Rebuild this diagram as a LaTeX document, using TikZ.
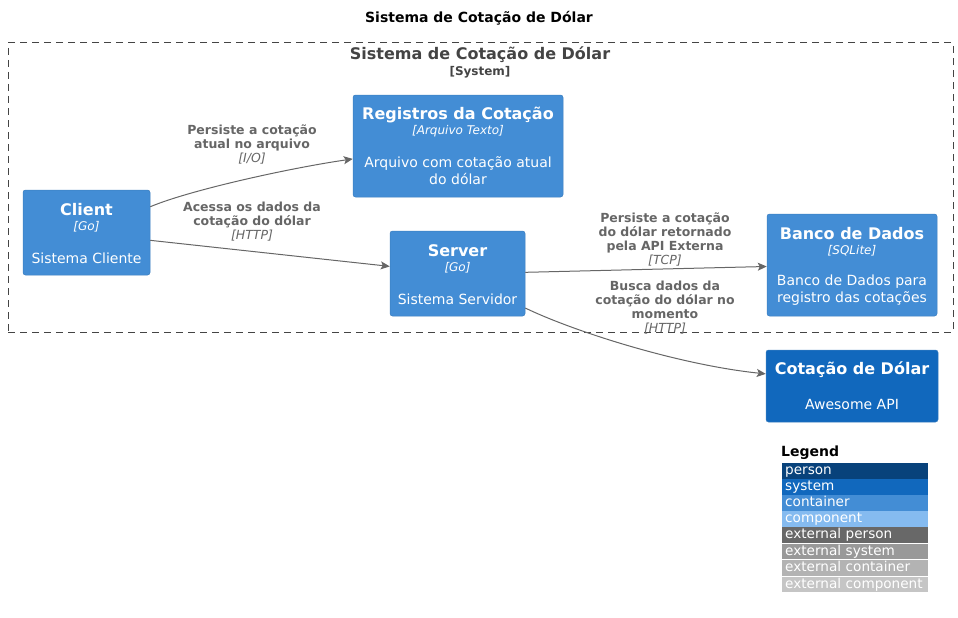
\documentclass[tikz,border=0pt]{standalone}
\usepackage{fontspec}
\setmainfont{DejaVu Sans}
\usepackage{tikz}
\usetikzlibrary{arrows.meta,shapes,positioning}
\usepackage{xcolor}
\definecolor{c4person}{RGB}{8,66,123}
\definecolor{c4system}{RGB}{17,104,189}
\definecolor{c4container}{RGB}{67,141,213}
\definecolor{c4component}{RGB}{133,187,240}
\definecolor{c4extperson}{RGB}{104,104,104}
\definecolor{c4extsystem}{RGB}{153,153,153}
\definecolor{c4extcontainer}{RGB}{179,179,179}
\definecolor{c4extcomponent}{RGB}{197,197,197}
\definecolor{c4border}{RGB}{60,127,192}
\definecolor{c4line}{RGB}{102,102,102}
\definecolor{c4boundary}{RGB}{68,68,68}
\tikzstyle{arrow} = [line width=1pt,-{Stealth[length=9pt,width=8pt,inset=2pt]},color=c4line]
\tikzstyle{container} = [rectangle, rounded corners=2.5pt, draw=c4border, fill=c4container, line width=0.5pt, inner sep=0pt]
\tikzstyle{extsystem} = [rectangle, rounded corners=2.5pt, draw=c4border, fill=c4system, line width=0.5pt, inner sep=0pt]
\tikzstyle{boundary} = [rectangle, draw=c4boundary, line width=1pt, dash pattern=on 7pt off 5pt, inner sep=0pt]
\tikzstyle{ctitle} = [text=white, inner sep=0pt, font=\bfseries\fontsize{16}{19}\selectfont]
\tikzstyle{ctech} = [text=white, inner sep=0pt, font=\itshape\fontsize{12}{14}\selectfont]
\tikzstyle{cdesc} = [text=white, inner sep=0pt, align=center, font=\fontsize{14}{16.5}\selectfont]
\tikzstyle{rellabel} = [text=c4line, inner sep=0pt, align=center, font=\bfseries\fontsize{12.5}{14}\selectfont]
\tikzstyle{legendrow} = [rectangle, anchor=north west, inner xsep=3pt, inner ysep=0pt, text width=140pt, minimum height=15.5pt, text height=10.5pt, text depth=3pt, align=left, text=white, font=\fontsize{13.6}{16}\selectfont]
\newcommand{\reltech}[1]{{\mdseries\itshape #1}}

\begin{document}
\begin{tikzpicture}[x=1pt,y=-1pt]
\useasboundingbox (0,0) rectangle (958,618);

\node[font=\bfseries\fontsize{14}{17}\selectfont] (title) at (479,18) {Sistema de Cotação de Dólar};

% system boundary
\node[boundary, minimum width=945, minimum height=289] (sysbound) at (480.5,187.5) {};
\node[text=c4boundary, font=\bfseries\fontsize{16}{19}\selectfont] (sysname) at (480,55) {Sistema de Cotação de Dólar};
\node[text=c4boundary, font=\bfseries\fontsize{12}{14}\selectfont] (systype) at (480,72) {[System]};

% containers
\node[container, minimum width=127, minimum height=85] (client) at (86.5,232.5) {};
\node[ctitle] (clientname) at (86.5,210) {Client};
\node[ctech] (clienttech) at (86.5,227) {[Go]};
\node[cdesc] (clientdesc) at (86.5,258) {Sistema Cliente};

\node[container, minimum width=210, minimum height=102] (registros) at (458,146) {};
\node[ctitle] (registrosname) at (458,115) {Registros da Cotação};
\node[ctech] (registrostech) at (458,131) {[Arquivo Texto]};
\node[cdesc] (registrosdesc) at (458,170.5) {Arquivo com cotação atual\\do dólar};

\node[container, minimum width=135, minimum height=85] (server) at (457.5,273.5) {};
\node[ctitle] (servername) at (457.5,251) {Server};
\node[ctech] (servertech) at (457.5,268) {[Go]};
\node[cdesc] (serverdesc) at (457.5,299) {Sistema Servidor};

\node[container, minimum width=170, minimum height=102] (banco) at (852,265) {};
\node[ctitle] (banconame) at (852,234) {Banco de Dados};
\node[ctech] (bancotech) at (852,251) {[SQLite]};
\node[cdesc] (bancodesc) at (852,290) {Banco de Dados para\\registro das cotações};

% external api
\node[extsystem, minimum width=172, minimum height=72] (api) at (852,386) {};
\node[ctitle] (apiname) at (852,370) {Cotação de Dólar};
\node[cdesc] (apidesc) at (852,404) {Awesome API};

% relations
\draw[arrow] (client.22) .. controls (190,190) and (290,168) .. (registros.187);
\draw[arrow] (client.-7) -- (server.174);
\draw[arrow] (server.1) -- (banco.181);
\draw[arrow] (server.-27) .. controls (575,332) and (680,365) .. (api.172);

\node[rellabel] (rel1) at (252,144.5) {Persiste a cotação\\atual no arquivo\\\reltech{[I/O]}};
\node[rellabel] (rel2) at (252,222) {Acessa os dados da\\cotação do dólar\\\reltech{[HTTP]}};
\node[rellabel] (rel3) at (665,239.5) {Persiste a cotação\\do dólar retornado\\pela API Externa\\\reltech{[TCP]}};
\node[rellabel] (rel4) at (665,307.5) {Busca dados da\\cotação do dólar no\\momento\\\reltech{[HTTP]}};

% legend
\node[anchor=west, inner sep=0pt, font=\bfseries\fontsize{14}{17}\selectfont] (legend) at (781,453) {Legend};
\node[legendrow, fill=c4person] (lperson) at (782,463) {person};
\node[legendrow, fill=c4system] (lsystem) at (782,479) {system};
\node[legendrow, fill=c4container] (lcontainer) at (782,495) {container};
\node[legendrow, fill=c4component] (lcomponent) at (782,511) {component};
\node[legendrow, fill=c4extperson] (lextperson) at (782,527) {external person};
\node[legendrow, fill=c4extsystem] (lextsystem) at (782,543.5) {external system};
\node[legendrow, fill=c4extcontainer] (lextcontainer) at (782,560) {external container};
\node[legendrow, fill=c4extcomponent] (lextcomponent) at (782,576.5) {external component};
\end{tikzpicture}
\end{document}
